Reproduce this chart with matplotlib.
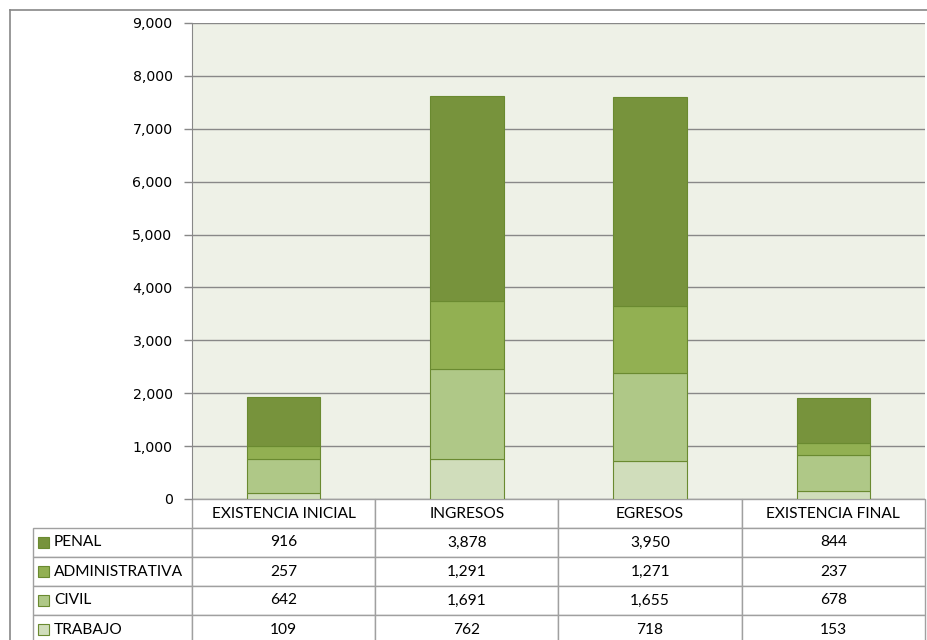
import matplotlib
matplotlib.use("Agg")
import matplotlib.pyplot as plt
from matplotlib.table import Table
from matplotlib.patches import Rectangle
from matplotlib.lines import Line2D
from matplotlib.ticker import FuncFormatter

categories = ["EXISTENCIA INICIAL", "INGRESOS", "EGRESOS", "EXISTENCIA FINAL"]
series = ["PENAL", "ADMINISTRATIVA", "CIVIL", "TRABAJO"]
penal = [916, 3878, 3950, 844]
administrativa = [257, 1291, 1271, 237]
civil = [642, 1691, 1655, 678]
trabajo = [109, 762, 718, 153]
colors = {"PENAL": "#77933c", "ADMINISTRATIVA": "#92b052",
          "CIVIL": "#afc887", "TRABAJO": "#d0ddbb"}
values = {"PENAL": penal, "ADMINISTRATIVA": administrativa,
          "CIVIL": civil, "TRABAJO": trabajo}

W, H = 928, 640
fig = plt.figure(figsize=(W / 100, H / 100), dpi=100)

# plot area in pixel terms
left, right, top, bottom = 192, 925, 23, 499
ax = fig.add_axes([left / W, 1 - bottom / H, (right - left) / W, (bottom - top) / H])
ax.set_facecolor("#eef1e7")

x = list(range(len(categories)))
base = [0] * len(categories)
# stack from bottom: TRABAJO, CIVIL, ADMINISTRATIVA, PENAL
for name in ["TRABAJO", "CIVIL", "ADMINISTRATIVA", "PENAL"]:
    ax.bar(x, values[name], bottom=base, width=0.4, color=colors[name],
           edgecolor="#6a8a30", linewidth=0.8, zorder=3)
    base = [b + v for b, v in zip(base, values[name])]

ax.set_xlim(-0.5, len(categories) - 0.5)
ax.set_ylim(0, 9000)
ax.set_yticks(range(0, 9001, 1000))
ax.yaxis.set_major_formatter(FuncFormatter(lambda v, p: f"{int(v):,}"))
ax.tick_params(axis="y", length=6, width=1, color="#888888", labelsize=10.2, pad=8)
ax.set_xticks([])
ax.grid(axis="y", color="#888888", linewidth=1, zorder=1)
for s in ["top", "right", "bottom"]:
    ax.spines[s].set_visible(False)
ax.spines["left"].set_color("#888888")

# data table
label_w = 192 - 33
col_w = (right - left) / len(categories)
row_h = 29
tw = label_w + col_w * len(categories)
th = row_h * 5
tb = Table(ax, bbox=[-label_w / (right - left), -th / (bottom - top),
                     tw / (right - left), th / (bottom - top)])
tfont = "Lato"
edge = "#a0a0a0"
c = tb.add_cell(0, 0, width=label_w, height=row_h, text="")
c.visible_edges = ""
for j, cat in enumerate(categories):
    c = tb.add_cell(0, j + 1, width=col_w, height=row_h, text=cat, loc="center")
    c.set_edgecolor(edge)
    c.get_text().set_fontfamily(tfont)
for i, name in enumerate(series):
    c = tb.add_cell(i + 1, 0, width=label_w, height=row_h, text=name, loc="left")
    c.PAD = 21 / label_w
    c.set_edgecolor(edge)
    c.get_text().set_fontfamily(tfont)
    for j in range(len(categories)):
        c = tb.add_cell(i + 1, j + 1, width=col_w, height=row_h,
                        text=f"{values[name][j]:,}", loc="center")
        c.set_edgecolor(edge)
        c.get_text().set_fontfamily(tfont)
tb.auto_set_font_size(False)
tb.set_fontsize(11.2)
ax.add_table(tb)

# legend keys inside the label cells
for i, name in enumerate(series):
    yc = bottom + row_h * (i + 1) + row_h / 2
    fig.patches.append(Rectangle((38 / W, 1 - (yc + 5.5) / H), 11 / W, 11 / H,
                                 transform=fig.transFigure, facecolor=colors[name],
                                 edgecolor="#6a8a30", linewidth=0.8))

# outer chart border
fig.add_artist(Line2D([10 / W, 1], [1 - 10 / H, 1 - 10 / H], color="#888888", linewidth=1.2))
fig.add_artist(Line2D([10 / W, 10 / W], [0, 1 - 10 / H], color="#888888", linewidth=1.2))

fig.savefig("out.png", dpi=100)
